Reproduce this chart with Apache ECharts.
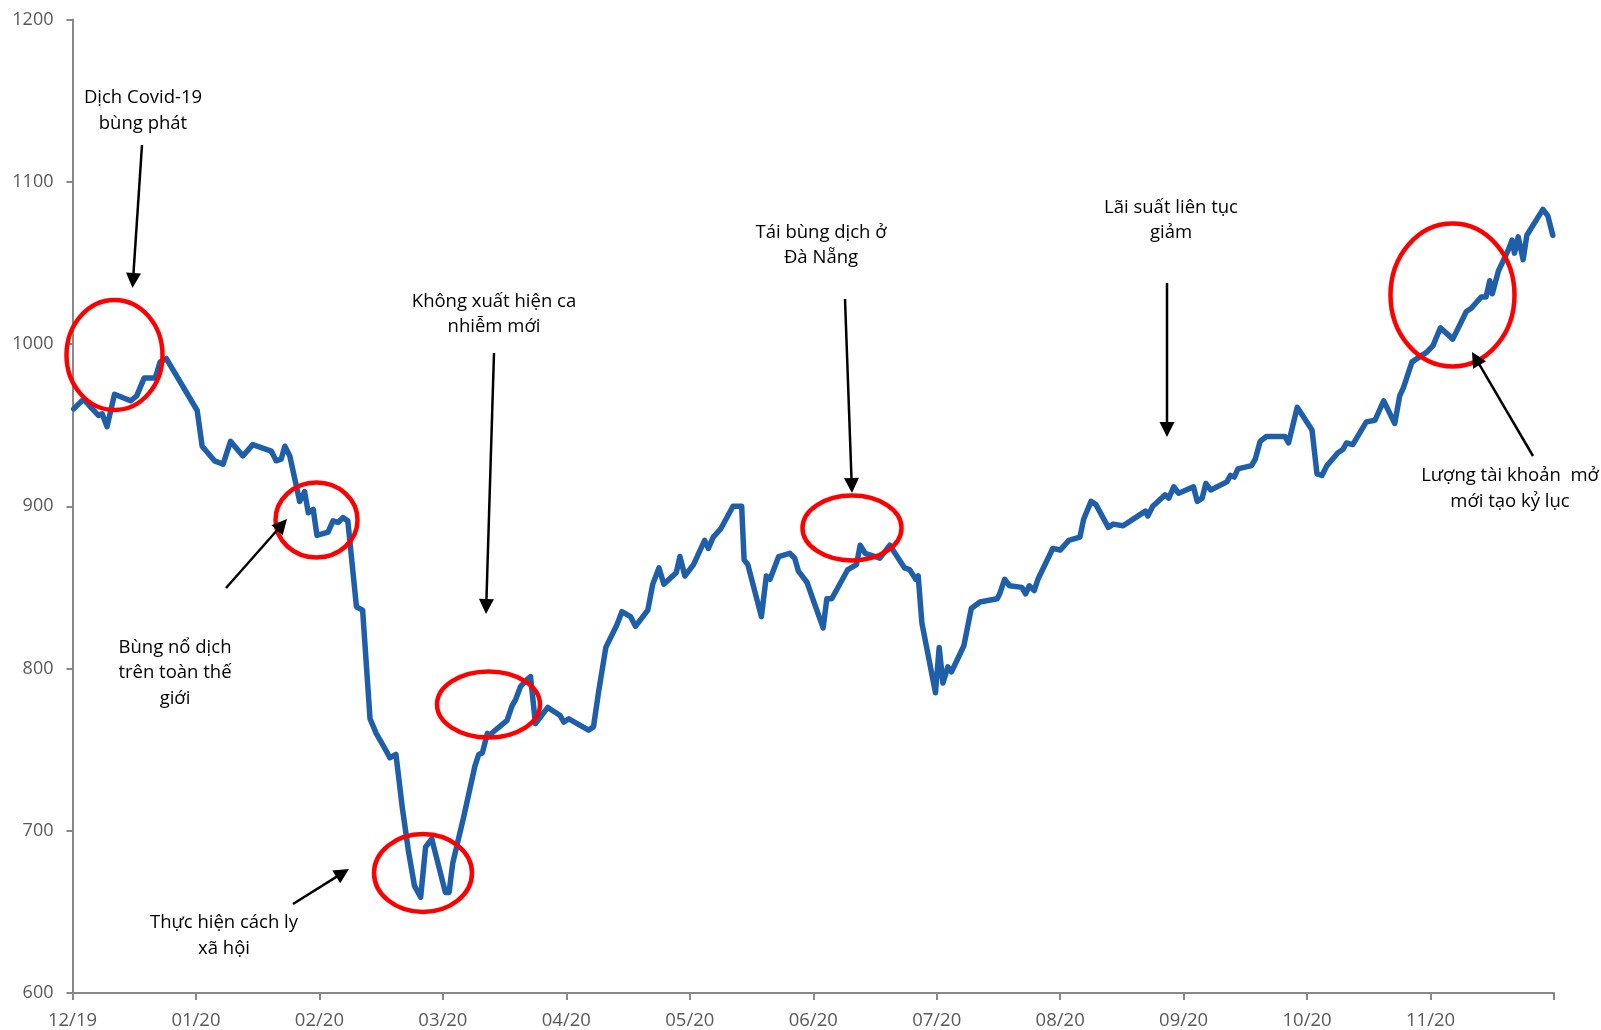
<!DOCTYPE html>
<html>
<head>
<meta charset="utf-8">
<title>VN-Index 12/2019 – 11/2020</title>
<script src="https://cdn.jsdelivr.net/npm/echarts@6/dist/echarts.min.js"></script>
<style>
  html, body { margin: 0; padding: 0; background: #ffffff; }
  #chart { width: 1601px; height: 1030px; }
</style>
</head>
<body>
<div id="chart"></div>
<script>
// Month tick labels (one per month boundary, last boundary unlabeled)
const monthLabels = ['12/19', '01/20', '02/20', '03/20', '04/20', '05/20',
                     '06/20', '07/20', '08/20', '09/20', '10/20', '11/20', ''];

// Position of each index reading, in months since the 12/19 tick
const monthPos = [
  0.01, 0.09, 0.16, 0.21, 0.24, 0.28, 0.34, 0.47, 0.52, 0.58, 0.67, 0.71, 0.76,
  1.01, 1.05, 1.15, 1.22, 1.28, 1.38, 1.46, 1.61, 1.65, 1.69, 1.72, 1.76,
  1.84, 1.88, 1.91, 1.95, 1.98, 2.07, 2.11, 2.15, 2.19, 2.23,
  2.30, 2.35, 2.41, 2.46, 2.55, 2.57, 2.62, 2.67, 2.72, 2.77, 2.82, 2.86, 2.91, 2.98,
  3.02, 3.05, 3.08, 3.17, 3.26, 3.29, 3.32, 3.36, 3.38, 3.44, 3.52, 3.56, 3.59, 3.63,
  3.68, 3.71, 3.75, 3.79, 3.85, 3.95, 3.98,
  4.02, 4.18, 4.22, 4.26, 4.32, 4.41, 4.45, 4.52, 4.56, 4.66, 4.70, 4.75, 4.79, 4.89,
  4.92, 4.96, 5.03, 5.12, 5.15, 5.19, 5.25, 5.35, 5.42, 5.44, 5.47, 5.58, 5.62, 5.65,
  5.72, 5.81, 5.85, 5.88, 5.95,
  6.01, 6.08, 6.11, 6.15, 6.28, 6.35, 6.38, 6.42, 6.54, 6.62, 6.74, 6.78, 6.83, 6.85,
  6.88, 6.99, 7.02, 7.05, 7.09, 7.12, 7.22, 7.28, 7.35, 7.49, 7.51, 7.55, 7.59, 7.69,
  7.72, 7.75, 7.79, 7.82, 7.94, 8.00, 8.07, 8.16, 8.19, 8.25, 8.29, 8.39, 8.43, 8.51,
  8.61, 8.69, 8.71, 8.75, 8.85, 8.88, 8.92, 8.96, 9.08, 9.11, 9.15, 9.18, 9.22, 9.35,
  9.38, 9.41, 9.44, 9.55, 9.58, 9.62, 9.67, 9.82, 9.85, 9.92,
  10.04, 10.08, 10.12, 10.16, 10.25, 10.29, 10.32, 10.37, 10.48, 10.55, 10.62, 10.71,
  10.75, 10.78, 10.85, 10.89, 10.97,
  11.02, 11.08, 11.18, 11.29, 11.33, 11.41, 11.45, 11.48, 11.50, 11.55, 11.63, 11.66,
  11.68, 11.71, 11.75, 11.78, 11.91, 11.95, 11.99
];

// VN-Index closing level at each position
const vnIndex = [
  960, 966, 960, 956, 957, 949, 969, 965, 968, 979, 979, 989, 991,
  959, 937, 928, 926, 940, 931, 938, 934, 928, 929, 937, 931,
  903, 909, 896, 898, 882, 884, 891, 890, 893, 891,
  838, 836, 769, 760, 748, 745, 747, 715, 688, 666, 659, 690, 695, 674,
  662, 662, 680, 709, 740, 747, 748, 760, 759, 763, 768, 777, 781, 789,
  793, 795, 766, 770, 776, 771, 767,
  769, 762, 764, 785, 813, 827, 835, 832, 826, 836, 852, 862, 852, 859,
  869, 857, 864, 879, 874, 881, 886, 900, 900, 867, 864, 832, 857, 855,
  869, 871, 868, 860, 853,
  840, 825, 843, 843, 861, 864, 876, 871, 868, 876, 862, 861, 855, 857,
  828, 785, 813, 791, 801, 798, 814, 837, 841, 843, 846, 855, 851, 850,
  846, 851, 848, 855, 874, 873, 879, 881, 892, 903, 901, 887, 889, 888,
  893, 897, 894, 900, 907, 905, 912, 908, 912, 903, 905, 914, 910, 915,
  919, 918, 923, 925, 929, 940, 943, 943, 939, 961,
  947, 920, 919, 925, 933, 935, 939, 938, 952, 953, 965, 951,
  968, 973, 989, 991, 995,
  999, 1010, 1003, 1020, 1022, 1029, 1029, 1039, 1031, 1045, 1058, 1064,
  1056, 1066, 1052, 1067, 1083, 1079, 1067
];

// Event notes: text lines, circled regions and pointer arrows (pixel layout)
const noteTexts = [
  { lines: ['Dịch Covid-19', 'bùng phát'], cx: 143, cy: [98, 124] },
  { lines: ['Bùng nổ dịch', 'trên toàn thế', 'giới'], cx: 175, cy: [648, 673, 699] },
  { lines: ['Thực hiện cách ly', 'xã hội'], cx: 224, cy: [923, 949] },
  { lines: ['Không xuất hiện ca', 'nhiễm mới'], cx: 494, cy: [302, 327] },
  { lines: ['Tái bùng dịch ở', 'Đà Nẵng'], cx: 821, cy: [233, 258] },
  { lines: ['Lãi suất liên tục', 'giảm'], cx: 1171, cy: [208, 233] },
  { lines: ['Lượng tài khoản  mở', 'mới tạo kỷ lục'], cx: 1510, cy: [476, 502] }
];
const noteRings = [
  [114.5, 355, 48, 55],
  [316.5, 520, 41, 37.5],
  [423, 873, 49, 39],
  [488.5, 704.5, 51.5, 33],
  [852, 528, 49.5, 32.5],
  [1452.5, 295, 62, 71.5]
];
const noteArrows = [
  [142, 145, 132.5, 288],
  [226, 588, 287, 519],
  [293, 904, 349, 869],
  [494, 353, 486, 614],
  [845, 299, 852, 493],
  [1167, 283, 1167, 437],
  [1533, 456, 1472, 352]
];

const FONT = '"Open Sans", "Noto Sans", sans-serif';
const LINE_BLUE = '#1F5FA9';
const AXIS_GRAY = '#898989';

function arrowGraphics(x1, y1, x2, y2) {
  const dx = x2 - x1, dy = y2 - y1;
  const len = Math.sqrt(dx * dx + dy * dy);
  const ux = dx / len, uy = dy / len;
  const headLen = 15, halfW = 7.5;
  const bx = x2 - ux * headLen, by = y2 - uy * headLen;
  return [
    {
      type: 'line', silent: true,
      shape: { x1: x1, y1: y1, x2: bx + ux * 2, y2: by + uy * 2 },
      style: { stroke: '#000000', lineWidth: 2.5 }
    },
    {
      type: 'polygon', silent: true,
      shape: { points: [[x2, y2], [bx - uy * halfW, by + ux * halfW], [bx + uy * halfW, by - ux * halfW]] },
      style: { fill: '#000000' }
    }
  ];
}

const graphics = [];
noteRings.forEach(function (r) {
  graphics.push({
    type: 'ellipse', silent: true,
    shape: { cx: r[0], cy: r[1], rx: r[2], ry: r[3] },
    style: { fill: 'none', stroke: '#FF0000', lineWidth: 4.5 },
    z: 10
  });
});
noteArrows.forEach(function (a) {
  arrowGraphics(a[0], a[1], a[2], a[3]).forEach(function (g) { g.z = 10; graphics.push(g); });
});
noteTexts.forEach(function (n) {
  n.lines.forEach(function (t, i) {
    graphics.push({
      type: 'text', silent: true, z: 10,
      x: n.cx, y: n.cy[i],
      style: {
        text: t, fill: '#000000',
        font: '18.5px ' + FONT,
        align: 'center', verticalAlign: 'middle'
      }
    });
  });
});

const chart = echarts.init(document.getElementById('chart'), null, { renderer: 'canvas' });
chart.setOption({
  animation: false,
  backgroundColor: '#ffffff',
  grid: { left: 72.5, right: 47, top: 19.5, bottom: 36.5, containLabel: false },
  xAxis: {
    type: 'value',
    min: 0, max: 12, interval: 1,
    axisLine: { show: true, lineStyle: { color: AXIS_GRAY, width: 2 } },
    axisTick: { show: true, length: 7, lineStyle: { color: AXIS_GRAY, width: 2 } },
    splitLine: { show: false },
    axisLabel: {
      show: true, margin: 18,
      color: '#595959', fontSize: 18.5, fontFamily: FONT,
      showMinLabel: true, showMaxLabel: true,
      formatter: function (v) { return monthLabels[Math.round(v)] || ''; }
    }
  },
  yAxis: {
    type: 'value',
    min: 600, max: 1200, interval: 100,
    axisLine: { show: true, lineStyle: { color: AXIS_GRAY, width: 2 } },
    axisTick: { show: true, length: 6, lineStyle: { color: AXIS_GRAY, width: 2 } },
    splitLine: { show: false },
    axisLabel: {
      margin: 19, color: '#595959', fontSize: 18, fontFamily: FONT,
      formatter: function (v) { return String(v); }
    }
  },
  series: [{
    type: 'line',
    data: monthPos.map(function (m, i) { return [m, vnIndex[i]]; }),
    showSymbol: false,
    symbol: 'none',
    lineStyle: { color: LINE_BLUE, width: 5.5, join: 'round', cap: 'round' },
    z: 5
  }],
  graphic: graphics
});
</script>
</body>
</html>
